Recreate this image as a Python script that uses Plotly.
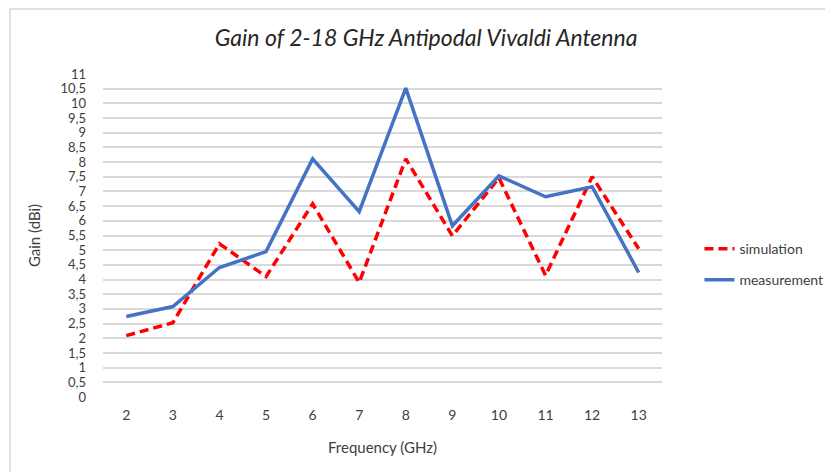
import plotly.graph_objects as go

# frequency points (GHz) and gain values (dBi)
freq = [2, 3, 4, 5, 6, 7, 8, 9, 10, 11, 12, 13]
simulation = [2.09, 2.53, 5.22, 4.10, 6.58, 3.90, 8.11, 5.49, 7.46, 4.14, 7.50, 5.05]
measurement = [2.74, 3.08, 4.41, 4.95, 8.11, 6.31, 10.52, 5.83, 7.53, 6.82, 7.16, 4.24]

y_ticks = [i * 0.5 for i in range(23)]

FONT = "Lato, 'Open Sans', sans-serif"

fig = go.Figure()
fig.add_trace(go.Scatter(x=freq, y=simulation, mode="lines", name="simulation",
                         legendgroup="sim",
                         line=dict(color="#FF0000", width=3.5, dash="9px,5px")))
fig.add_trace(go.Scatter(x=freq, y=measurement, mode="lines", name="measurement",
                         legendgroup="meas",
                         line=dict(color="#4472C4", width=3.5)))

fig.update_layout(
    width=833, height=472,
    # page body adds an 8px offset, so margins are 8px smaller on left/top
    margin=dict(l=95, r=179, t=66, b=83, autoexpand=False),
    paper_bgcolor="white", plot_bgcolor="white",
    separators=", ",
    font=dict(family=FONT, size=13, color="#404040"),
    title=dict(text="<i>Gain of 2-18 GHz Antipodal Vivaldi Antenna</i>",
               x=0.502, xanchor="center", y=0.937, yanchor="middle",
               font=dict(family=FONT, size=23, color="#262626")),
    xaxis=dict(range=[1.5, 13.5], tickmode="array", tickvals=freq,
               showgrid=False, zeroline=False, showline=False,
               ticks="", ticklabelstandoff=8, automargin=False,
               tickfont=dict(size=14),
               title=dict(text="Frequency (GHz)", standoff=20,
                          font=dict(size=15, color="#404040"))),
    yaxis=dict(range=[0, 11], tickmode="array", tickvals=y_ticks,
               showgrid=True, gridcolor="#D9D9D9", gridwidth=1.5,
               zeroline=False, showline=False, ticks="",
               ticklabelstandoff=16, automargin=False,
               title=dict(text="Gain (dBi)", standoff=16,
                          font=dict(size=15, color="#404040"))),
    legend=dict(x=1.067, y=0.41, xanchor="left", yanchor="middle",
                traceorder="grouped", tracegroupgap=10,
                font=dict(size=14, color="#404040"), bgcolor="rgba(0,0,0,0)"),
    shapes=[dict(type="rect", xref="paper", yref="paper",
                 x0=-0.1664, x1=1.5, y0=-0.5, y1=1.201,
                 line=dict(color="#D9D9D9", width=1.5), layer="below")],
)

fig.write_html("out.html")
